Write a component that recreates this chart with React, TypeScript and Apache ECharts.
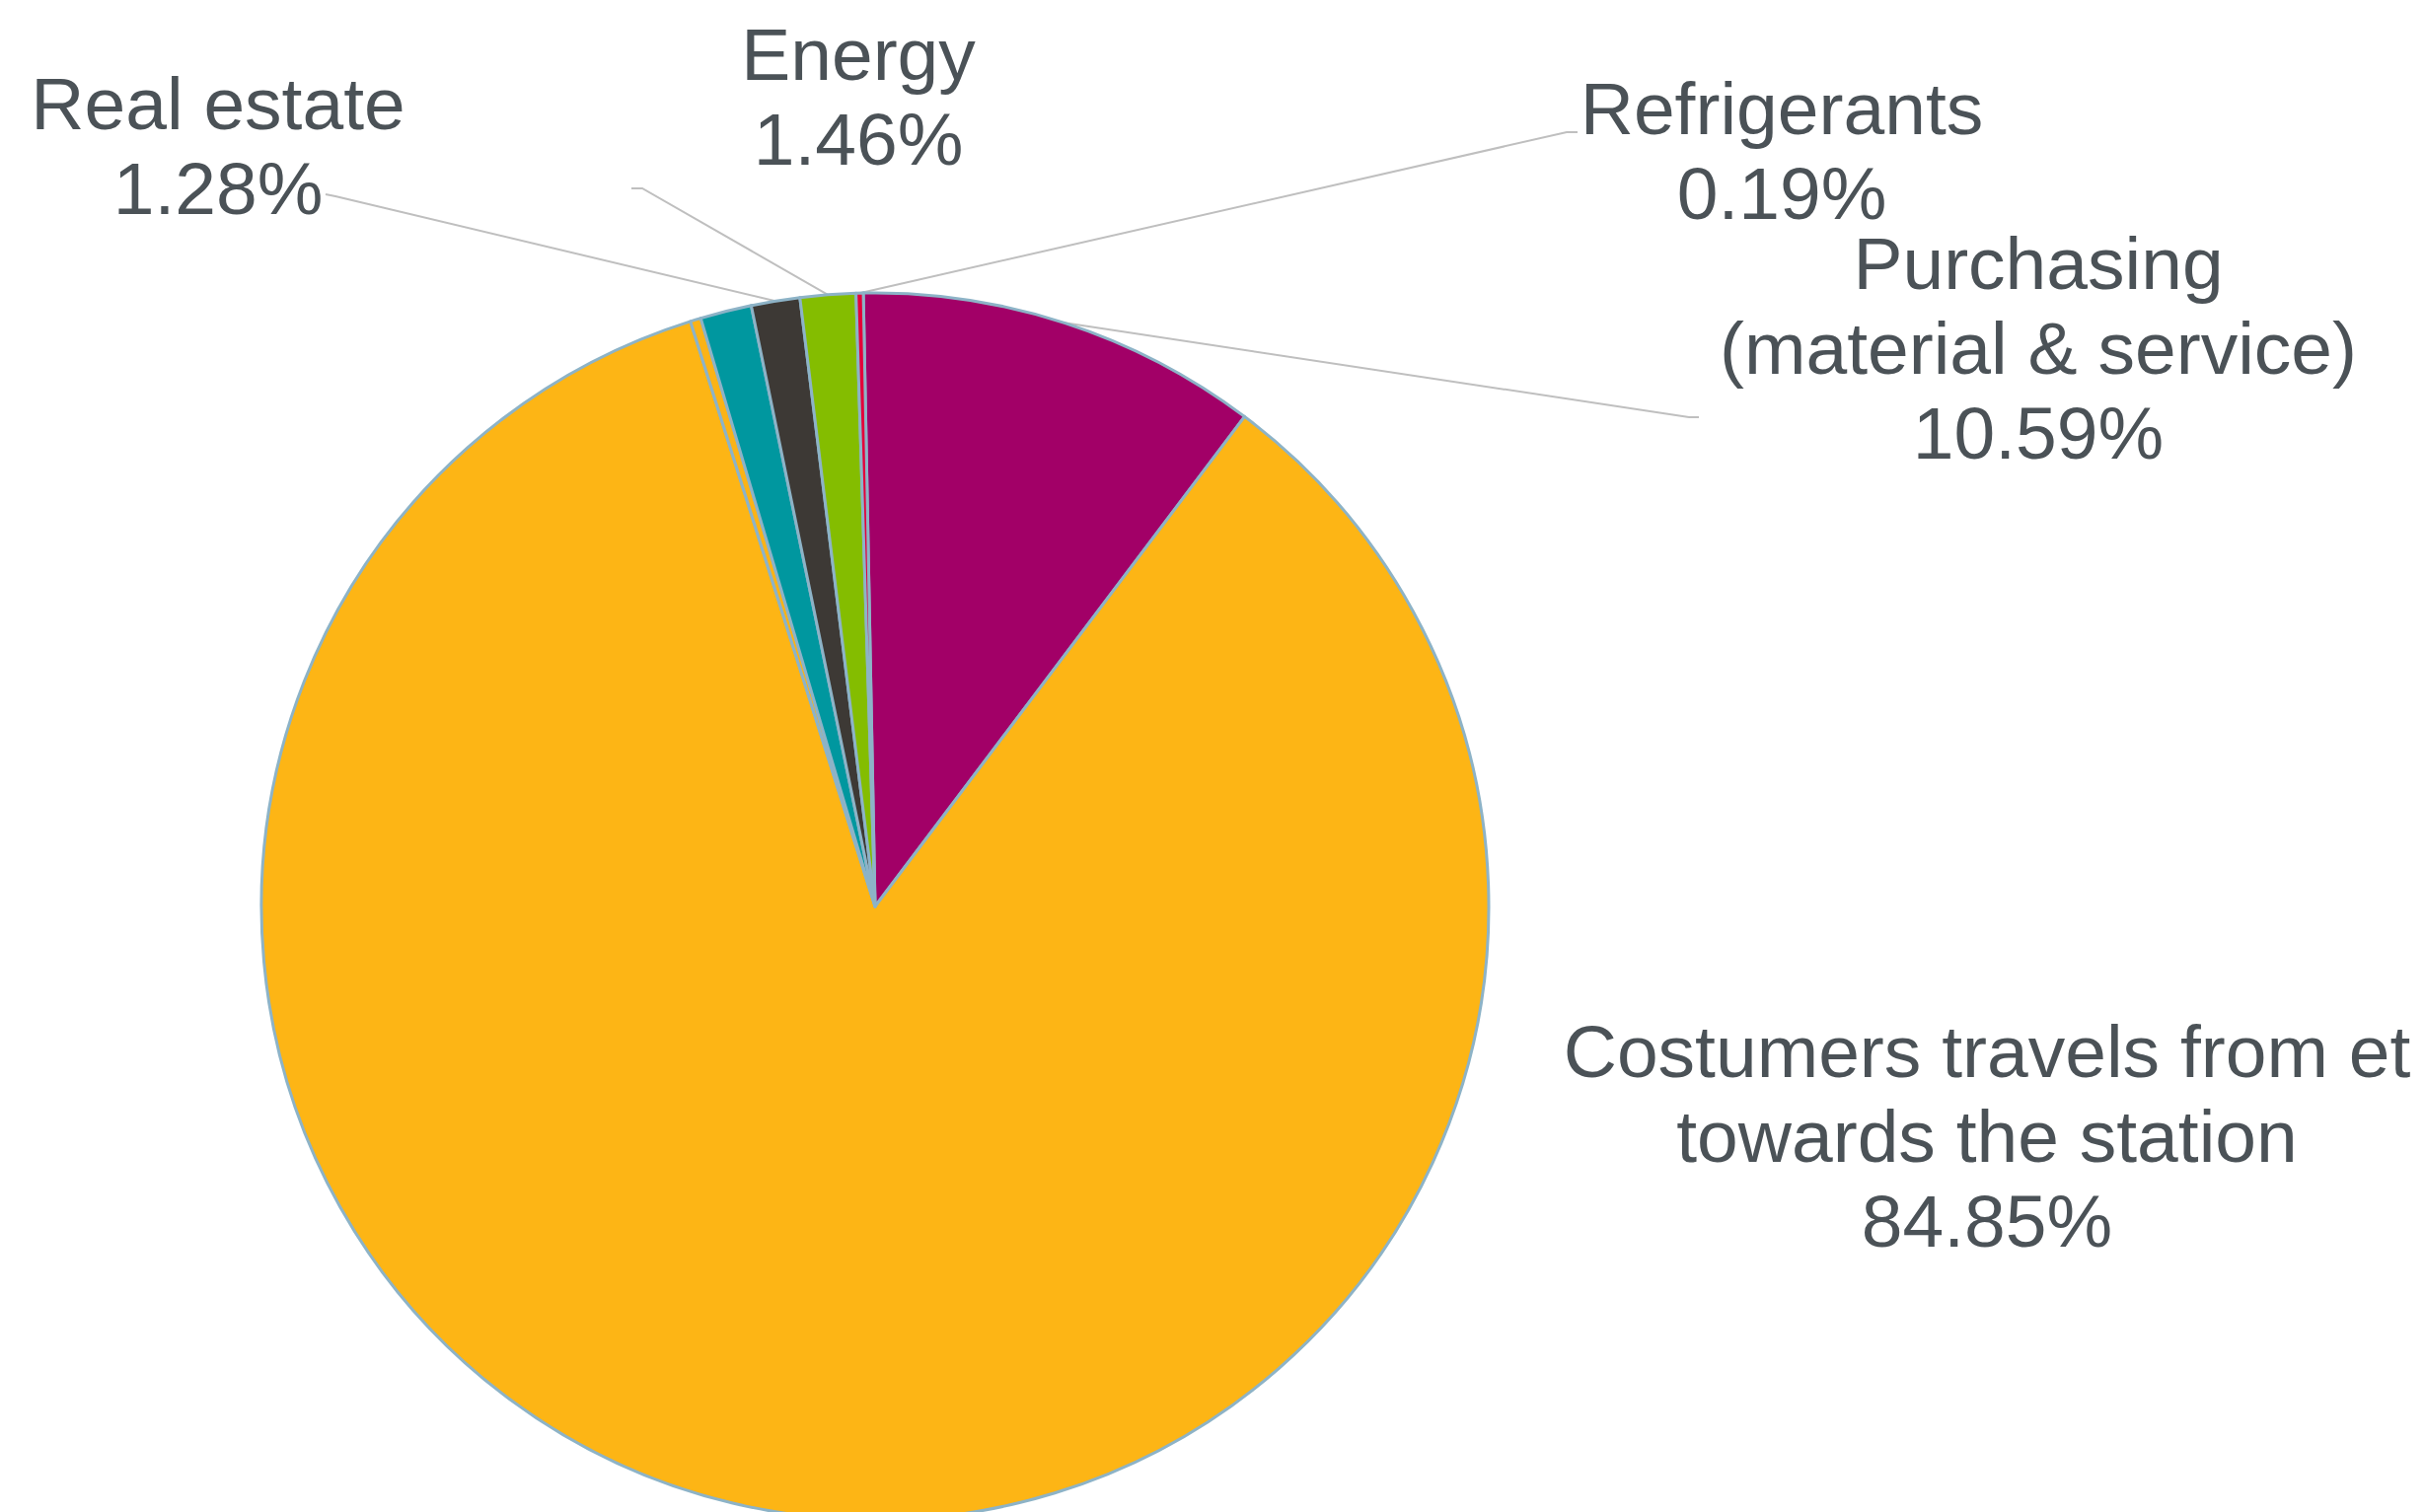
import React, { useEffect, useRef } from "react";
import * as echarts from "echarts";

// Data (percent shares), clockwise from 12 o'clock
const names = [
  "Purchasing\n(material & service)",
  "Costumers travels from et\ntowards the station",
  "Other (small)",
  "Other",
  "Real estate",
  "Energy",
  "Refrigerants",
];
const values = [10.59, 84.85, 0.28, 1.35, 1.28, 1.46, 0.19];
const colors = ["#A20067", "#FDB515", "#FBB316", "#00979F", "#3D3935", "#84BD00", "#E4003A"];
const showLabel = [true, true, false, false, true, true, true];
const showLine = [true, false, false, false, true, true, true];

// label placement (text block centre) and leader-line end points, by data index
const labelPos: Record<number, { x: number; y: number; line?: number[][] }> = {
  0: { x: 2066, y: 353, line: [[1712, 423], [1722, 423]] },
  1: { x: 2014, y: 1152 },
  4: { x: 221, y: 148, line: [[340, 199], [330, 197]] },
  5: { x: 870, y: 98, line: [[651, 191], [640, 191]] },
  6: { x: 1806, y: 153, line: [[1588, 134], [1599, 134]] },
};

export default function App() {
  const ref = useRef<HTMLDivElement>(null);
  useEffect(() => {
    if (!ref.current) return;
    const chart = echarts.init(ref.current, null, { renderer: "svg" });
    chart.setOption({
      animation: false,
      backgroundColor: "#ffffff",
      series: [
        {
          type: "pie",
          center: [887, 919],
          radius: 622,
          startAngle: 91.1,
          clockwise: true,
          avoidLabelOverlap: false,
          itemStyle: { borderColor: "#8DB3C7", borderWidth: 3 },
          label: {
            show: true,
            position: "outside",
            fontFamily: "Liberation Sans, Arial, sans-serif",
            fontSize: 75,
            lineHeight: 86,
            color: "#4B5257",
            align: "center",
            formatter: (p: any) => `${p.name}\n${Number(p.value).toFixed(2)}%`,
          },
          labelLine: {
            show: true,
            length: 20,
            length2: 20,
            lineStyle: { color: "#BFBFBF", width: 2 },
          },
          labelLayout: (params: any) => {
            const pos = labelPos[params.dataIndex];
            if (!pos) return {};
            const out: any = { x: pos.x, y: pos.y, align: "center", verticalAlign: "middle" };
            if (pos.line && params.labelLinePoints) {
              const a = params.labelLinePoints[0];
              out.labelLinePoints = [a, pos.line[0], pos.line[1]];
            }
            return out;
          },
          data: names.map((n, i) => ({
            name: n,
            value: values[i],
            itemStyle: { color: colors[i] },
            label: { show: showLabel[i] },
            labelLine: { show: showLine[i] },
          })),
        },
      ],
    });
    return () => chart.dispose();
  }, []);
  return (
    <div
      ref={ref}
      style={{ position: "fixed", left: 0, top: 0, width: 2458, height: 1533 }}
    />
  );
}
